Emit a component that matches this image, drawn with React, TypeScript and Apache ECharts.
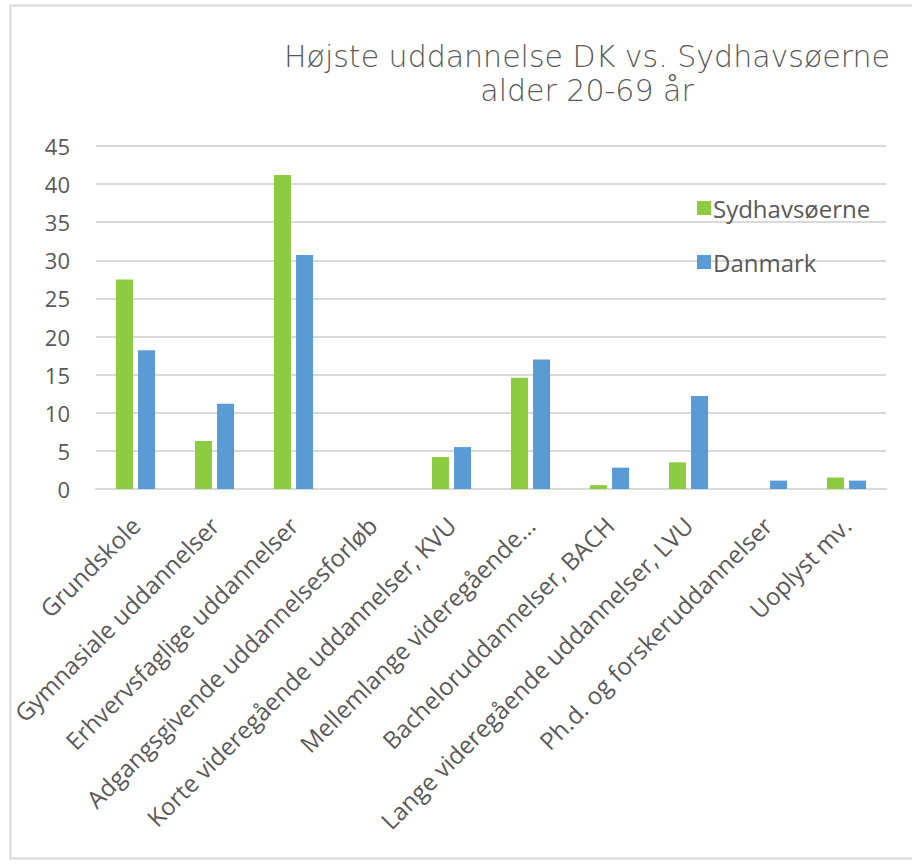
import React, { useEffect, useRef } from "react";
import * as echarts from "echarts";

const categories = [
  "Grundskole",
  "Gymnasiale uddannelser",
  "Erhvervsfaglige uddannelser",
  "Adgangsgivende uddannelsesforløb",
  "Korte videregående uddannelser, KVU",
  "Mellemlange videregående...",
  "Bacheloruddannelser, BACH",
  "Lange videregående uddannelser, LVU",
  "Ph.d. og forskeruddannelser",
  "Uoplyst mv.",
];
const sydhavsoerne = [27.5, 6.3, 41.2, 0, 4.2, 14.6, 0.5, 3.5, 0, 1.5];
const danmark = [18.2, 11.2, 30.7, 0, 5.5, 17.0, 2.8, 12.2, 1.1, 1.1];
const titleText = "Højste uddannelse DK vs. Sydhavsøerne\nalder 20-69 år";
const seriesNames = ["Sydhavsøerne", "Danmark"];

const TEXT = "#595959";
const FONT = "'Open Sans', sans-serif";

export default function App() {
  const ref = useRef<HTMLDivElement>(null);
  useEffect(() => {
    if (!ref.current) return;
    const chart = echarts.init(ref.current, null, { renderer: "svg" });
    chart.setOption({
      animation: false,
      backgroundColor: "#ffffff",
      title: {
        text: titleText,
        left: 582,
        top: 34,
        textAlign: "center",
        textStyle: {
          fontFamily: "'DejaVu Sans', sans-serif",
          fontWeight: 200,
          fontSize: 30,
          color: TEXT,
          lineHeight: 34,
        },
      },
      legend: {
        orient: "vertical",
        left: 692,
        top: 189,
        itemWidth: 14,
        itemHeight: 14,
        itemGap: 26,
        icon: "rect",
        textStyle: { fontFamily: FONT, fontSize: 24, color: TEXT, lineHeight: 28, padding: [0, 0, 0, -3] },
        data: seriesNames,
      },
      grid: { left: 96, right: 26, top: 146, bottom: 374, containLabel: false },
      xAxis: {
        type: "category",
        data: categories,
        axisLine: { lineStyle: { color: "#d9d9d9", width: 2 } },
        axisTick: { show: false },
        axisLabel: {
          rotate: 45,
          interval: 0,
          fontFamily: FONT,
          fontSize: 24,
          color: TEXT,
          margin: 32,
        },
      },
      yAxis: {
        type: "value",
        min: 0,
        max: 45,
        interval: 5,
        axisLine: { show: false },
        axisTick: { show: false },
        splitLine: { lineStyle: { color: "#d9d9d9", width: 2 } },
        axisLabel: { fontFamily: FONT, fontSize: 22, color: TEXT, margin: 26 },
      },
      series: [
        {
          name: seriesNames[0],
          type: "bar",
          data: sydhavsoerne,
          barWidth: 17,
          barGap: "30%",
          itemStyle: { color: "#8DCB41" },
        },
        {
          name: seriesNames[1],
          type: "bar",
          data: danmark,
          barWidth: 17,
          itemStyle: { color: "#5B9BD5" },
        },
      ],
      graphic: [
        {
          type: "rect",
          shape: { x: 10.5, y: 5.5, width: 920, height: 853 },
          style: { fill: "none", stroke: "#d9d9d9", lineWidth: 2 },
          silent: true,
          z: -1,
        },
      ],
    });
    return () => chart.dispose();
  }, []);
  return (
    <div
      ref={ref}
      style={{ position: "absolute", left: 0, top: 0, width: 912, height: 863 }}
    />
  );
}
